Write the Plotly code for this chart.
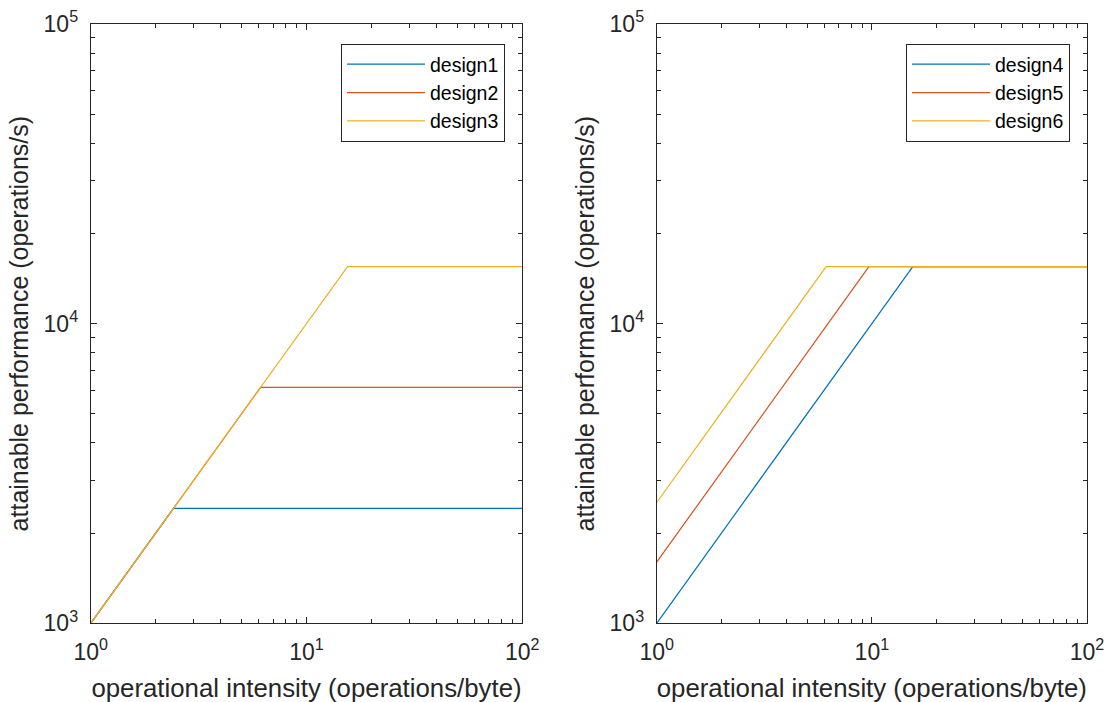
import plotly.graph_objects as go

# ---- data ----
names_left = ["design1", "design2", "design3"]
x_design1 = [1, 2.42, 100]
y_design1 = [1000, 2420, 2420]
x_design2 = [1, 6.13, 100]
y_design2 = [1000, 6130, 6130]
x_design3 = [1, 15.5, 100]
y_design3 = [1000, 15500, 15500]

names_right = ["design4", "design5", "design6"]
x_design4 = [1, 15.5, 100]
y_design4 = [1000, 15500, 15500]
x_design5 = [1, 9.69, 100]
y_design5 = [1600, 15500, 15500]
x_design6 = [1, 6.13, 100]
y_design6 = [2530, 15500, 15500]

x_tickvals = [1, 10, 100]
x_ticktext = ["10<sup>0</sup>", "10<sup>1</sup>", "10<sup>2</sup>"]
y_tickvals = [1000, 10000, 100000]
y_ticktext = ["10<sup>3</sup>", "10<sup>4</sup>", "10<sup>5</sup>"]
x_label = "operational intensity (operations/byte)"
y_label = "attainable performance (operations/s)"

colors = ["#0072BD", "#D95319", "#EDB120"]
FONT = "Liberation Sans, Arial, Helvetica, sans-serif"
AX = "#262626"

W, H = 1107, 702
fig = go.Figure()

left = [(x_design1, y_design1), (x_design2, y_design2), (x_design3, y_design3)]
right = [(x_design4, y_design4), (x_design5, y_design5), (x_design6, y_design6)]

for i, (xs, ys) in enumerate(left):
    fig.add_trace(go.Scatter(x=xs, y=ys, mode="lines", name=names_left[i],
                             line=dict(color=colors[i], width=1.2),
                             xaxis="x", yaxis="y", legend="legend"))
for i, (xs, ys) in enumerate(right):
    fig.add_trace(go.Scatter(x=xs, y=ys, mode="lines", name=names_right[i],
                             line=dict(color=colors[i], width=1.2),
                             xaxis="x2", yaxis="y2", legend="legend2"))

minor_x = [m * d for d in (1, 10) for m in range(2, 10)]
minor_y = [m * d for d in (1000, 10000) for m in range(2, 10)]

def xaxis(domain, anchor):
    return dict(type="log", domain=domain, anchor=anchor, range=[0, 2],
                tickmode="array", tickvals=x_tickvals, ticktext=x_ticktext,
                ticks="inside", ticklen=6, tickcolor=AX, tickwidth=1,
                ticklabelstandoff=8,
                showline=True, linecolor=AX, linewidth=1, mirror="ticks",
                showgrid=False, zeroline=False,
                tickfont=dict(family=FONT, size=23, color=AX),
                minor=dict(tickvals=minor_x, ticks="inside", ticklen=4,
                           tickcolor=AX, showgrid=False),
                title=dict(text=x_label, font=dict(family=FONT, size=25.8, color=AX),
                           standoff=18),
                automargin=False)

def yaxis(domain, anchor):
    return dict(type="log", domain=domain, anchor=anchor, range=[3, 5],
                tickmode="array", tickvals=y_tickvals, ticktext=y_ticktext,
                ticks="inside", ticklen=6, tickcolor=AX, tickwidth=1,
                ticklabelstandoff=7,
                showline=True, linecolor=AX, linewidth=1, mirror="ticks",
                showgrid=False, zeroline=False,
                tickfont=dict(family=FONT, size=23, color=AX),
                minor=dict(tickvals=minor_y, ticks="inside", ticklen=4,
                           tickcolor=AX, showgrid=False),
                title=dict(text=y_label, font=dict(family=FONT, size=25, color=AX),
                           standoff=7),
                automargin=False)

xl0, xl1 = 90.7 / W, 522.3 / W
xr0, xr1 = 656.7 / W, 1087.0 / W
yb, yt = 1 - 623.3 / H, 1 - 24.0 / H

legend_common = dict(bordercolor="#262626", borderwidth=1, bgcolor="white",
                     font=dict(family=FONT, size=19.5, color="black"),
                     xanchor="right", yanchor="top", itemwidth=78,
                     tracegroupgap=0)

fig.update_layout(
    width=W, height=H,
    margin=dict(l=0, r=0, t=0, b=0),
    paper_bgcolor="white", plot_bgcolor="white",
    xaxis=xaxis([xl0, xl1], "y"),
    yaxis=yaxis([yb, yt], "x"),
    xaxis2=xaxis([xr0, xr1], "y2"),
    yaxis2=yaxis([yb, yt], "x2"),
    legend=dict(x=505 / W, y=1 - 44 / H, **legend_common),
    legend2=dict(x=1070 / W, y=1 - 44 / H, **legend_common),
    showlegend=True,
)

fig.write_html("out.html", config={"displayModeBar": False},
               post_script="document.body.style.margin='0';document.body.style.padding='0';")
